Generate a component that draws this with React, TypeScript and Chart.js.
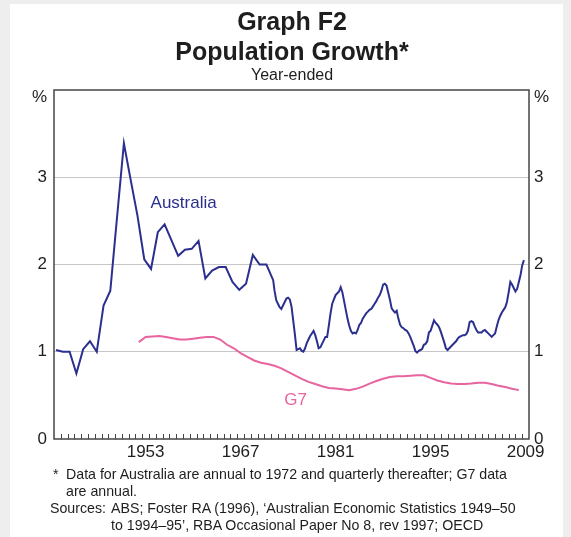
import React, { useEffect, useRef } from 'react';
import { Chart, registerables } from 'chart.js';

Chart.register(...registerables);

const FONT = '"Liberation Sans", Arial, Helvetica, sans-serif';

// ---------------- DATA ----------------
const xTickYears = [1953, 1967, 1981, 1995, 2009];
const yTickLabels = ['0', '1', '2', '3', '%'];

// Australia: annual to 1972
const australiaAnnualYears = [
  1940, 1941, 1942, 1943, 1944, 1945, 1946, 1947, 1948, 1949,
  1950, 1951, 1952, 1953, 1954, 1955, 1956, 1957, 1958, 1959,
  1960, 1961, 1962, 1963, 1964, 1965, 1966, 1967, 1968, 1969,
  1970, 1971, 1972,
];
const australiaAnnual = [
  1.02, 1.0, 1.0, 0.75, 1.03, 1.12, 1.0, 1.53, 1.7, 2.55,
  3.39, 2.97, 2.56, 2.06, 1.95, 2.37, 2.46, 2.28, 2.1, 2.17,
  2.18, 2.27, 1.84, 1.93, 1.97, 1.97, 1.8, 1.71, 1.78, 2.11,
  2.0, 2.0, 1.82,
];

// Australia: quarterly thereafter (Sep 1972 .. Mar 2009)
const australiaQuarterStart = 1972.5;
const australiaQuarterly = [
  1.7, 1.59,
  1.55, 1.51, 1.49, 1.53,
  1.57, 1.61, 1.62, 1.6,
  1.52, 1.36, 1.2, 1.02,
  1.03, 1.04, 1.01, 1.0,
  1.04, 1.1, 1.14, 1.18,
  1.21, 1.24, 1.19, 1.12,
  1.04, 1.05, 1.09, 1.13,
  1.17, 1.17, 1.3, 1.44,
  1.55, 1.6, 1.65, 1.67,
  1.69, 1.74, 1.68, 1.58,
  1.48, 1.38, 1.3, 1.24,
  1.21, 1.22, 1.21, 1.25,
  1.31, 1.33, 1.38, 1.41,
  1.44, 1.46, 1.48, 1.49,
  1.52, 1.55, 1.58, 1.62,
  1.65, 1.7, 1.77, 1.78,
  1.76, 1.68, 1.6, 1.5,
  1.47, 1.45, 1.47, 1.38,
  1.31, 1.28, 1.27, 1.25,
  1.24, 1.21, 1.17, 1.12,
  1.07, 1.01, 0.99, 1.01,
  1.02, 1.03, 1.08, 1.09,
  1.12, 1.22, 1.24, 1.3,
  1.36, 1.33, 1.31, 1.28,
  1.23, 1.17, 1.11, 1.04,
  1.02, 1.04, 1.06, 1.08,
  1.1, 1.12, 1.15, 1.17,
  1.18, 1.19, 1.19, 1.2,
  1.24, 1.34, 1.35, 1.34,
  1.29, 1.25, 1.22, 1.22,
  1.22, 1.24, 1.25, 1.23,
  1.21, 1.19, 1.17, 1.19,
  1.21, 1.29, 1.36, 1.41,
  1.45, 1.48, 1.51, 1.57,
  1.68, 1.8, 1.77, 1.73,
  1.69, 1.72, 1.8, 1.88,
  1.99, 2.05,
];

// G7: annual
const g7Years = [
  1952, 1953, 1954, 1955, 1956, 1957, 1958, 1959, 1960, 1961,
  1962, 1963, 1964, 1965, 1966, 1967, 1968, 1969, 1970, 1971,
  1972, 1973, 1974, 1975, 1976, 1977, 1978, 1979, 1980, 1981,
  1982, 1983, 1984, 1985, 1986, 1987, 1988, 1989, 1990, 1991,
  1992, 1993, 1994, 1995, 1996, 1997, 1998, 1999, 2000, 2001,
  2002, 2003, 2004, 2005, 2006, 2007, 2008,
];
const g7 = [
  1.11, 1.17, 1.175, 1.18, 1.17, 1.155, 1.14, 1.14, 1.15, 1.16,
  1.17, 1.17, 1.14, 1.08, 1.04, 0.985, 0.94, 0.9, 0.875, 0.86,
  0.84, 0.81, 0.77, 0.73, 0.69, 0.655, 0.63, 0.605, 0.585, 0.578,
  0.57, 0.56, 0.575, 0.6, 0.635, 0.665, 0.69, 0.71, 0.72, 0.72,
  0.725, 0.73, 0.73, 0.7, 0.67, 0.65, 0.635, 0.63, 0.63, 0.635,
  0.645, 0.645, 0.63, 0.61, 0.595, 0.575, 0.56,
];

// ---------------- STYLE ----------------
const AUS_COLOR = '#2b2f8e';
const G7_COLOR = '#e8649f';
const TEXT = '#1e1e1e';
const FRAME = '#454545';
const GRID = '#c6c6c6';

const annualOffset = 0.3;
const g7Offset = 0.5;

const seriesLabels = [
  { text: 'Australia', x: 1959.1, y: 2.7, color: AUS_COLOR },
  { text: 'G7', x: 1975.6, y: 0.446, color: G7_COLOR },
];

const framePlugin = {
  id: 'frame',
  afterDraw(chart: any) {
    const { ctx, chartArea: a, scales } = chart;
    const xs = scales.x;
    ctx.save();
    ctx.strokeStyle = FRAME;
    ctx.lineWidth = 1;
    ctx.beginPath();
    for (let yr = xs.min + 1; yr < xs.max; yr++) {
      const px = Math.round(xs.getPixelForValue(yr)) + 0.5;
      ctx.moveTo(px, a.bottom);
      ctx.lineTo(px, a.bottom - 5);
    }
    ctx.stroke();
    ctx.lineWidth = 1.5;
    ctx.strokeRect(a.left, a.top, a.right - a.left, a.bottom - a.top);
    ctx.restore();
  },
  afterDatasetsDraw(chart: any) {
    const { ctx, scales } = chart;
    ctx.save();
    ctx.font = `17px ${FONT}`;
    ctx.textAlign = 'center';
    ctx.textBaseline = 'middle';
    for (const l of seriesLabels) {
      ctx.fillStyle = l.color;
      ctx.fillText(l.text, scales.x.getPixelForValue(l.x), scales.y.getPixelForValue(l.y));
    }
    ctx.restore();
  },
};

const yTickCallback = (v: any) => {
  const lab = yTickLabels[Math.round(Number(v))];
  return Number(v) === 4 ? ['', lab] : lab;
};

export default function App() {
  const ref = useRef<HTMLCanvasElement | null>(null);

  useEffect(() => {
    if (!ref.current) return;
    const ausData = [
      ...australiaAnnualYears.map((yr, i) => ({ x: yr + annualOffset, y: australiaAnnual[i] })),
      ...australiaQuarterly.map((v, i) => ({ x: australiaQuarterStart + i * 0.25, y: v })),
    ];
    const g7Data = g7Years.map((yr, i) => ({ x: yr + g7Offset, y: g7[i] }));

    const tickFont = { family: FONT, size: 17, lineHeight: 0.9 };

    const chart = new Chart(ref.current, {
      type: 'line',
      data: {
        datasets: [
          {
            label: 'G7',
            data: g7Data,
            borderColor: G7_COLOR,
            borderWidth: 2,
            pointRadius: 0,
            tension: 0,
          },
          {
            label: 'Australia',
            data: ausData,
            borderColor: AUS_COLOR,
            borderWidth: 2,
            pointRadius: 0,
            tension: 0,
          },
        ],
      },
      options: {
        responsive: false,
        animation: false,
        devicePixelRatio: 1,
        layout: { padding: { left: 0, right: 0, top: 90, bottom: 68 } },
        plugins: {
          legend: { display: false },
          tooltip: { enabled: false },
          title: { display: false },
        },
        scales: {
          x: {
            type: 'linear',
            min: 1940,
            max: 2010,
            afterBuildTicks: (s: any) => {
              s.ticks = xTickYears.map((y) => ({ value: y + 0.5 }));
            },
            afterFit: (s: any) => {
              s.height = 30;
            },
            grid: { display: false, drawTicks: false },
            border: { display: false },
            ticks: {
              autoSkip: false,
              maxRotation: 0,
              padding: 3,
              color: TEXT,
              font: { family: FONT, size: 17 },
              callback: (v: any) => String(Math.floor(Number(v))),
            },
          },
          y: {
            position: 'left',
            min: 0,
            max: 4,
            afterFit: (s: any) => {
              s.width = 54;
            },
            grid: {
              drawTicks: false,
              color: (c: any) => (c.tick && (c.tick.value === 0 || c.tick.value === 4) ? 'rgba(0,0,0,0)' : GRID),
              lineWidth: 1,
            },
            border: { display: false },
            ticks: { stepSize: 1, padding: 7, color: TEXT, font: tickFont, callback: yTickCallback },
          },
          y2: {
            position: 'right',
            min: 0,
            max: 4,
            afterFit: (s: any) => {
              s.width = 42;
            },
            grid: { display: false, drawTicks: false },
            border: { display: false },
            ticks: { stepSize: 1, padding: 5, color: TEXT, font: tickFont, callback: yTickCallback },
          },
        },
      },
      plugins: [framePlugin],
    } as any);
    return () => chart.destroy();
  }, []);

  const abs = (o: React.CSSProperties): React.CSSProperties => ({
    position: 'absolute',
    whiteSpace: 'nowrap',
    fontFamily: FONT,
    color: TEXT,
    ...o,
  });

  const noteSize = 14.2;
  const noteLine = 17;
  const noteTop = 466;

  return (
    <div style={{ position: 'fixed', left: 0, top: 0, width: 571, height: 537, background: '#eeeeee', overflow: 'hidden' }}>
      <div style={{ position: 'absolute', left: 10, top: 4, width: 553, height: 533, background: '#ffffff' }} />
      <canvas ref={ref} width={571} height={537} style={{ position: 'absolute', left: 0, top: 0, width: 571, height: 537 }} />
      <div style={abs({ left: 92, width: 400, textAlign: 'center', top: 8, fontSize: 25, lineHeight: '26px', fontWeight: 'bold' })}>Graph F2</div>
      <div style={abs({ left: 92, width: 400, textAlign: 'center', top: 38, fontSize: 25, lineHeight: '26px', fontWeight: 'bold' })}>Population Growth*</div>
      <div style={abs({ left: 92, width: 400, textAlign: 'center', top: 66, fontSize: 16, lineHeight: '18px' })}>Year-ended</div>

      <div style={abs({ left: 53, top: noteTop, fontSize: noteSize, lineHeight: `${noteLine}px` })}>*</div>
      <div style={abs({ left: 66, top: noteTop, fontSize: noteSize, lineHeight: `${noteLine}px` })}>
        Data for Australia are annual to 1972 and quarterly thereafter; G7 data
      </div>
      <div style={abs({ left: 66, top: noteTop + noteLine, fontSize: noteSize, lineHeight: `${noteLine}px` })}>are annual.</div>
      <div style={abs({ left: 50, top: noteTop + noteLine * 2, fontSize: noteSize, lineHeight: `${noteLine}px` })}>Sources:</div>
      <div style={abs({ left: 111, top: noteTop + noteLine * 2, fontSize: noteSize, lineHeight: `${noteLine}px` })}>
        ABS; Foster RA (1996), ‘Australian Economic Statistics 1949–50
      </div>
      <div style={abs({ left: 111, top: noteTop + noteLine * 3, fontSize: noteSize, lineHeight: `${noteLine}px` })}>
        to 1994–95’, RBA Occasional Paper No 8, rev 1997; OECD
      </div>
    </div>
  );
}
